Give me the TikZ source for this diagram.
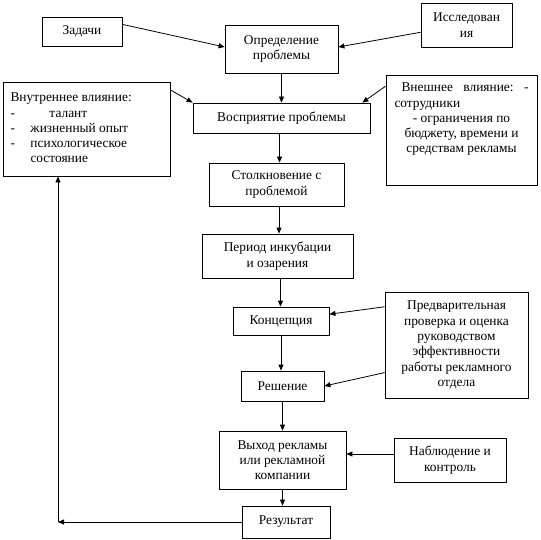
\documentclass[tikz,border=0pt]{standalone}
\usepackage{fontspec}
\setmainfont{Liberation Serif}
\usetikzlibrary{arrows.meta,calc}
\begin{document}
\begin{tikzpicture}[x=1pt,y=-1pt,
  box/.style={draw=black,line width=0.8pt,inner sep=2pt,align=center,font=\fontsize{13.4}{15.3}\selectfont},
  arr/.style={draw=black,line width=0.8pt,-{Triangle[length=6pt,width=5pt]}}]
\useasboundingbox (0,0) rectangle (540,540);
\node[box,minimum width=80pt,minimum height=29pt] (zad) at (82,31.5) {Задачи};
\node[box,minimum width=113pt,minimum height=48pt] (opr) at (281.5,49) {\raisebox{3pt}{Определение}\\\raisebox{3pt}{проблемы}};
\node[box,minimum width=91pt,minimum height=44pt] (isl) at (466.5,25) {Исследован\\ия};
\node[box,minimum width=167pt,minimum height=94pt,inner sep=4pt] (vnu) at (86.5,129)
  {\parbox[c][86pt][t]{152pt}{\vspace*{7pt}Внутреннее влияние:\\
   \makebox[20pt][l]{-}\hspace{19pt}талант\\
   \makebox[20pt][l]{-}жизненный опыт\\
   \makebox[20pt][l]{-}психологическое\\
   \hspace*{20pt}состояние}};
\node[box,minimum width=177pt,minimum height=30pt] (vos) at (281.5,118) {Восприятие проблемы};
\node[box,minimum width=151pt,minimum height=110pt,inner sep=4pt] (vne) at (461.5,130)
  {\parbox[c][102pt][t]{134pt}{\vspace*{4pt}\hbox to \linewidth{\hspace{7pt}Внешнее\hfill влияние:\hfill -}%
   \par\noindent сотрудники\par
   {\centering - ограничения по\\ бюджету, времени и\\ средствам рекламы\par}}};
\node[box,minimum width=135pt,minimum height=43pt] (sto) at (276.5,184.5) {Столкновение с\\проблемой};
\node[box,minimum width=151pt,minimum height=44pt] (per) at (277.5,256) {Период инкубации\\и озарения};
\node[box,minimum width=96pt,minimum height=28pt] (kon) at (281,321) {Концепция};
\node[box,minimum width=143pt,minimum height=106pt] (pre) at (456.5,345) {Предварительная\\проверка и оценка\\руководством\\эффективности\\работы рекламного\\отдела};
\node[box,minimum width=83pt,minimum height=30pt] (res) at (282.5,386) {Решение};
\node[box,minimum width=127pt,minimum height=58pt] (vyh) at (282.5,460) {Выход рекламы\\или рекламной\\компании};
\node[box,minimum width=112pt,minimum height=44pt] (nab) at (450,460) {Наблюдение и\\контроль};
\node[box,minimum width=88pt,minimum height=32pt] (rez) at (286,522) {Результат};
\coordinate (corner) at (58,522);
\draw[arr] (zad.10) -- (opr.178);
\draw[arr] (isl.189) -- (opr.2);
\draw[arr] (opr.south) -- (opr.south |- vos.north);
\draw[arr] (vnu.25) -- (vos.north west);
\draw[arr] (vne.150) -- ($(vos.north east)+(-8,0)$);
\draw[arr] ([xshift=-2pt]vos.south) -- ([xshift=-2pt]vos.south |- sto.north);
\draw[arr] ([xshift=2.5pt]sto.south) -- ([xshift=2.5pt]sto.south |- per.north);
\draw[arr] ([xshift=3pt]per.south) -- ([xshift=3pt]per.south |- kon.north);
\draw[arr] (pre.152) -- (kon.8);
\draw[arr] (pre.201) -- (res.east);
\draw[arr] (kon.south) -- (kon.south |- res.north);
\draw[arr] (res.south) -- (res.south |- vyh.north);
\draw[arr] ($(nab.west)+(0,-6)$) -- ($(vyh.east)+(0,-6)$);
\draw[arr] (vyh.south) -- (vyh.south |- rez.north);
\draw[arr] (rez.west) -- (corner);
\draw[arr] (corner) -- (corner |- vnu.south);
\end{tikzpicture}
\end{document}
